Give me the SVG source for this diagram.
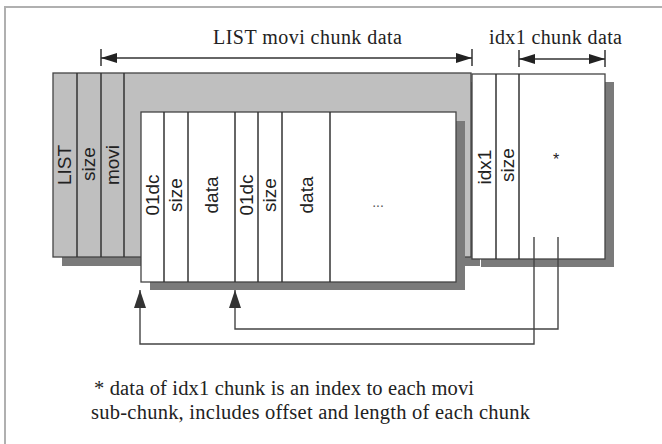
<svg xmlns="http://www.w3.org/2000/svg" width="662" height="444" viewBox="0 0 662 444">
<style>
.frame{stroke:#b0b0b0;stroke-width:2;fill:none}
.ln{stroke:#333;stroke-width:1.5;fill:none}
.bx{stroke:#444;stroke-width:1.3}
.gray{fill:#bfbfbf}
.shadow{fill:#7a7a7a}
.white{fill:#fff}
.vt{font-family:"Liberation Sans",Arial,sans-serif;font-size:19px;fill:#222;text-anchor:middle}
.st{font-family:"Liberation Serif","Times New Roman",serif;fill:#222}
.conn{stroke:#444;stroke-width:1.4;fill:none}
</style>
<defs>
<marker id="dim" markerUnits="userSpaceOnUse" markerWidth="16" markerHeight="10" refX="16" refY="5" orient="auto-start-reverse">
<path d="M0,0 L16,5 L0,10 z" fill="#222"/>
</marker>
<marker id="ah" markerUnits="userSpaceOnUse" markerWidth="18" markerHeight="12" refX="18" refY="6" orient="auto">
<path d="M0,0 L18,6 L0,12 z" fill="#333"/>
</marker>
</defs>
<rect width="662" height="444" fill="#fff"/>
<path class="frame" d="M5,444 V7 H662"/>

<g id="list-chunk">
<rect class="shadow" x="62" y="82" width="418" height="184"/>
<rect class="gray bx" x="53" y="73" width="418" height="184"/>
<line class="ln" x1="77" y1="73" x2="77" y2="257"/>
<line class="ln" x1="101" y1="73" x2="101" y2="257"/>
<line class="ln" x1="124" y1="73" x2="124" y2="257"/>
<text class="vt" transform="translate(65,165) rotate(-90)" y="6">LIST</text>
<text class="vt" transform="translate(89,164) rotate(-90)" y="6">size</text>
<text class="vt" transform="translate(112.5,165) rotate(-90)" y="6">movi</text>
</g>

<g id="movi-subchunks">
<rect class="shadow" x="150" y="121" width="315" height="169"/>
<rect class="white bx" x="141" y="112" width="315" height="170"/>
<line class="ln" x1="164" y1="112" x2="164" y2="282"/>
<line class="ln" x1="188" y1="112" x2="188" y2="282"/>
<line class="ln" x1="235" y1="112" x2="235" y2="282"/>
<line class="ln" x1="258" y1="112" x2="258" y2="282"/>
<line class="ln" x1="282" y1="112" x2="282" y2="282"/>
<line class="ln" x1="330" y1="112" x2="330" y2="282"/>
<text class="vt" transform="translate(152.5,195) rotate(-90)" y="6.5">01dc</text>
<text class="vt" transform="translate(176,195) rotate(-90)" y="6">size</text>
<text class="vt" transform="translate(211.5,195) rotate(-90)" y="6.5">data</text>
<text class="vt" transform="translate(246.5,195) rotate(-90)" y="6.5">01dc</text>
<text class="vt" transform="translate(270,195) rotate(-90)" y="6">size</text>
<text class="vt" transform="translate(306,195) rotate(-90)" y="6.5">data</text>
<text class="vt" x="378" y="207" style="font-size:14px;fill:#555">...</text>
</g>

<g id="idx1-chunk">
<rect class="shadow" x="481" y="82" width="133" height="185"/>
<rect class="white bx" x="472" y="74" width="133" height="185"/>
<line class="ln" x1="496" y1="74" x2="496" y2="259"/>
<line class="ln" x1="519" y1="74" x2="519" y2="259"/>
<text class="vt" transform="translate(484,167) rotate(-90)" y="6.5">idx1</text>
<text class="vt" transform="translate(507.5,165) rotate(-90)" y="6">size</text>
<text class="vt" x="556" y="165" style="font-size:16px">*</text>
</g>

<g id="dimensions">
<line class="ln" x1="101" y1="49" x2="101" y2="66"/>
<line class="ln" x1="472" y1="49" x2="472" y2="66"/>
<line class="ln" x1="101" y1="58" x2="472" y2="58" marker-start="url(#dim)" marker-end="url(#dim)"/>
<text class="st" x="213" y="44" font-size="20" textLength="189">LIST movi chunk data</text>
<line class="ln" x1="519" y1="50" x2="519" y2="67"/>
<line class="ln" x1="605" y1="50" x2="605" y2="67"/>
<line class="ln" x1="519" y1="59" x2="605" y2="59" marker-start="url(#dim)" marker-end="url(#dim)"/>
<text class="st" x="489" y="44" font-size="20" textLength="133">idx1 chunk data</text>
</g>

<g id="connectors">
<path class="conn" d="M534,237 V344 H140 V290" marker-end="url(#ah)"/>
<path class="conn" d="M558,237 V329 H235 V290" marker-end="url(#ah)"/>
</g>

<g id="footnote">
<text class="st" x="94" y="395" font-size="20.5" textLength="380">* data of idx1 chunk is an index to each movi</text>
<text class="st" x="91" y="419" font-size="20.5" textLength="439">sub-chunk, includes offset and length of each chunk</text>
</g>
</svg>
